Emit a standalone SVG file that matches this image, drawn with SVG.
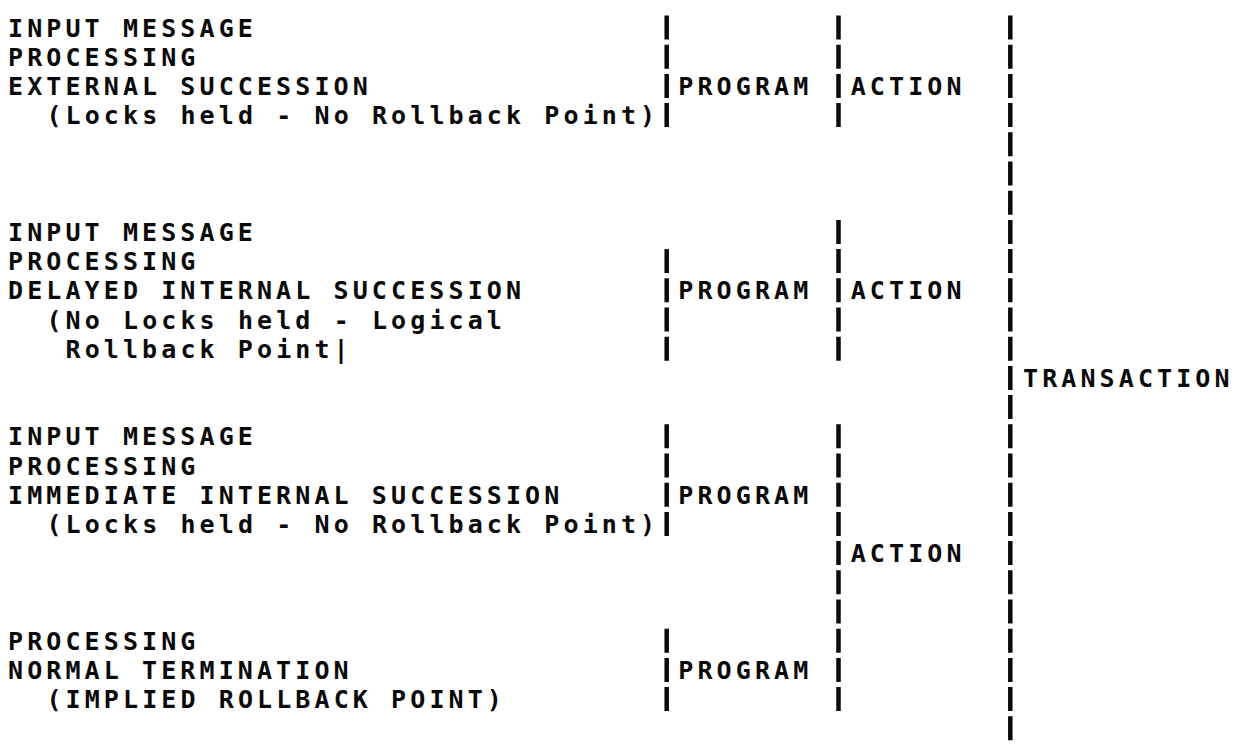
<svg xmlns="http://www.w3.org/2000/svg" width="1235" height="746" viewBox="0 0 1235 746">
<style>
text{font-family:"DejaVu Sans Mono","Liberation Mono",monospace;font-weight:bold;font-size:25px;letter-spacing:4.1px;fill:#0a0a0a}
.bar{stroke:#0a0a0a;stroke-width:4.5;stroke-dasharray:24 5.2;fill:none}
</style>
<rect width="1235" height="746" fill="#ffffff"/>
<g id="connectors">
<line class="bar" x1="666.7" y1="15.5" x2="666.7" y2="127.1"/>
<line class="bar" x1="666.7" y1="249.1" x2="666.7" y2="360.7"/>
<line class="bar" x1="666.7" y1="424.3" x2="666.7" y2="535.9"/>
<line class="bar" x1="666.7" y1="628.7" x2="666.7" y2="711.1"/>
<line class="bar" x1="838.5" y1="15.5" x2="838.5" y2="127.1"/>
<line class="bar" x1="838.5" y1="219.9" x2="838.5" y2="360.7"/>
<line class="bar" x1="838.5" y1="424.3" x2="838.5" y2="711.1"/>
<line class="bar" x1="1010.3" y1="15.5" x2="1010.3" y2="740.3"/>
</g>
<g id="block-external">
<text x="8" y="36.5">INPUT MESSAGE</text>
<text x="8" y="65.7">PROCESSING</text>
<text x="8" y="94.9">EXTERNAL SUCCESSION</text>
<text x="46.4" y="124.1">(Locks held - No Rollback Point)</text>
</g>
<g id="program-1"><text x="678.3" y="94.9">PROGRAM</text></g>
<g id="action-1"><text x="850.7" y="94.9">ACTION</text></g>
<g id="block-delayed">
<text x="8" y="240.9">INPUT MESSAGE</text>
<text x="8" y="270.1">PROCESSING</text>
<text x="8" y="299.3">DELAYED INTERNAL SUCCESSION</text>
<text x="46.4" y="328.5">(No Locks held - Logical</text>
<text x="65.5" y="357.7">Rollback Point|</text>
</g>
<g id="program-2"><text x="678.3" y="299.3">PROGRAM</text></g>
<g id="action-2"><text x="850.7" y="299.3">ACTION</text></g>
<g id="transaction"><text x="1023" y="386.9">TRANSACTION</text></g>
<g id="block-immediate">
<text x="8" y="445.3">INPUT MESSAGE</text>
<text x="8" y="474.5">PROCESSING</text>
<text x="8" y="503.7">IMMEDIATE INTERNAL SUCCESSION</text>
<text x="46.4" y="532.9">(Locks held - No Rollback Point)</text>
</g>
<g id="program-3"><text x="678.3" y="503.7">PROGRAM</text></g>
<g id="action-3"><text x="850.7" y="562.1">ACTION</text></g>
<g id="block-termination">
<text x="8" y="649.7">PROCESSING</text>
<text x="8" y="678.9">NORMAL TERMINATION</text>
<text x="46.4" y="708.1">(IMPLIED ROLLBACK POINT)</text>
</g>
<g id="program-4"><text x="678.3" y="678.9">PROGRAM</text></g>
</svg>
